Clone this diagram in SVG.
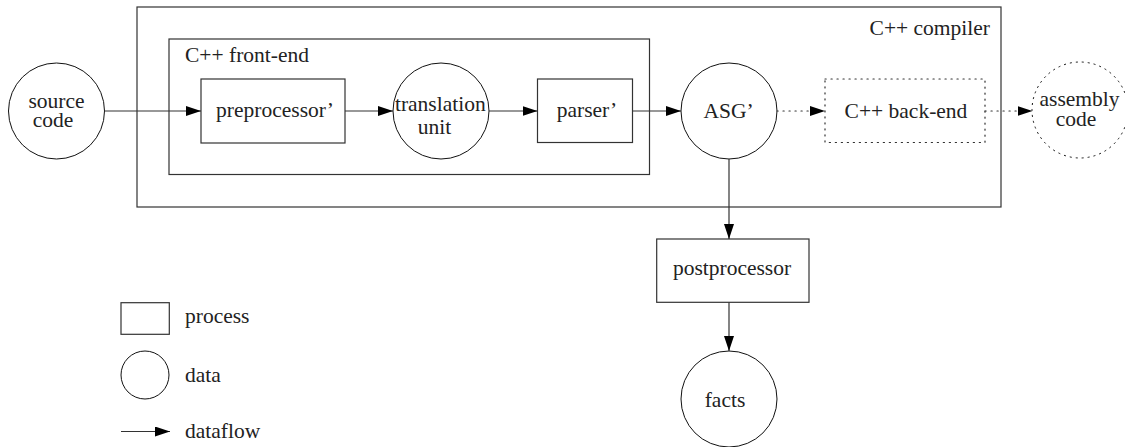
<svg xmlns="http://www.w3.org/2000/svg" width="1125" height="447" viewBox="0 0 1125 447">
  <style>
    .t { fill: #222; }
    .m { text-anchor: middle; }
    .box { fill: none; stroke: #333; stroke-width: 1.2; }
    .dat { fill: none; stroke: #111; stroke-width: 1; }
    .dot { stroke-dasharray: 1.2 4.8; stroke-linecap: round; }
    .flow { fill: none; stroke: #333; stroke-width: 1.2; marker-end: url(#head); }
  </style>
  <defs>
    <marker id="head" viewBox="0 0 15 10" refX="15" refY="5" markerWidth="15" markerHeight="10" markerUnits="userSpaceOnUse" orient="auto">
      <path d="M0,0 L15,5 L0,10 Z" fill="#000"/>
    </marker>
  </defs>

  <rect width="1125" height="447" fill="#fff"/>

  <g font-family="'Liberation Serif', 'Times New Roman', serif" font-size="21.5">
    <!-- containers -->
    <g id="compiler">
      <rect class="box" x="137" y="7" width="864" height="200"/>
      <text class="t" x="990" y="35" text-anchor="end">C++ compiler</text>
    </g>
    <g id="front-end">
      <rect class="box" x="169" y="39" width="480.5" height="135.5"/>
      <text class="t" x="185" y="61.7">C++ front-end</text>
    </g>

    <!-- nodes -->
    <g id="source-code">
      <circle class="dat" cx="56.5" cy="111" r="48"/>
      <text class="t m" x="56.5" y="107.7">source</text>
      <text class="t m" x="53" y="126.7">code</text>
    </g>
    <g id="preprocessor">
      <rect class="box" x="201" y="79" width="144" height="64"/>
      <text class="t m" x="275" y="117">preprocessor’</text>
    </g>
    <g id="translation-unit">
      <circle class="dat" cx="441" cy="111" r="48"/>
      <text class="t m" x="440.3" y="111">translation</text>
      <text class="t m" x="434.5" y="134">unit</text>
    </g>
    <g id="parser">
      <rect class="box" x="537.5" y="79" width="95" height="63.5"/>
      <text class="t m" x="587" y="117">parser’</text>
    </g>
    <g id="asg">
      <circle class="dat" cx="729" cy="111" r="48"/>
      <text class="t m" x="728.5" y="118">ASG’</text>
    </g>
    <g id="back-end">
      <rect class="box dot" x="825" y="79" width="160" height="63.5"/>
      <text class="t m" x="906" y="118">C++ back-end</text>
    </g>
    <g id="assembly-code">
      <circle class="dat dot" cx="1080" cy="110" r="48"/>
      <text class="t m" x="1079.5" y="106">assembly</text>
      <text class="t m" x="1076" y="126">code</text>
    </g>
    <g id="postprocessor">
      <rect class="box" x="656.7" y="239" width="152.3" height="63.3"/>
      <text class="t m" x="732" y="275">postprocessor</text>
    </g>
    <g id="facts">
      <circle class="dat" cx="729" cy="399" r="48"/>
      <text class="t m" x="725" y="406.7">facts</text>
    </g>

    <!-- legend -->
    <g id="legend">
      <rect class="box" x="121" y="302.7" width="48.3" height="31.6"/>
      <text class="t" x="185" y="323.3">process</text>
      <circle class="dat" cx="145" cy="375" r="24"/>
      <text class="t" x="185" y="382.3">data</text>
      <line class="flow" x1="121" y1="431.5" x2="170" y2="431.5"/>
      <text class="t" x="185" y="438.3">dataflow</text>
    </g>
  </g>

  <!-- connectors -->
  <g id="connectors">
    <line class="flow" x1="104.5" y1="111" x2="201" y2="111"/>
    <line class="flow" x1="345" y1="111" x2="393" y2="111"/>
    <line class="flow" x1="489" y1="111" x2="537.5" y2="111"/>
    <line class="flow" x1="632.5" y1="111" x2="681" y2="111"/>
    <line class="flow dot" x1="777" y1="111" x2="825" y2="111"/>
    <line class="flow dot" x1="985" y1="111" x2="1032.5" y2="111"/>
    <line class="flow" x1="729" y1="159" x2="729" y2="239"/>
    <line class="flow" x1="729" y1="302.3" x2="729" y2="351"/>
  </g>
</svg>
